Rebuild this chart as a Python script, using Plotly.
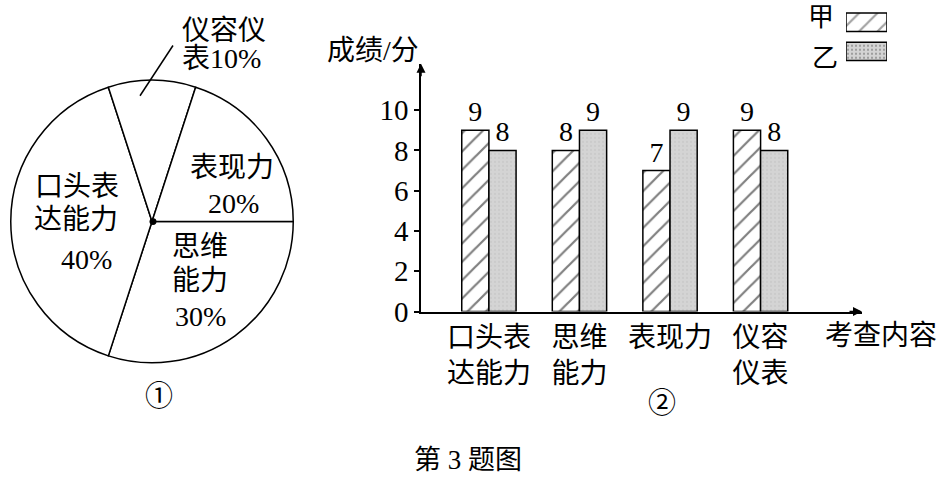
import plotly.graph_objects as go

W, H = 945, 491
FONT = "Liberation Serif, Noto Sans CJK SC"

# ---- data
categories = ["口头表达能力", "思维能力", "表现力", "仪容仪表"]
tick_text = ["口头表<br>达能力", "思维<br>能力", "表现力", "仪容<br>仪表"]
share = [40, 30, 20, 10]          # pie, percent
score_jia = [9, 8, 7, 9]          # 甲
score_yi = [8, 9, 9, 8]           # 乙
y_ticks = [0, 2, 4, 6, 8, 10]

pie_order = [1, 0, 3, 2]          # clockwise from 3 o'clock: 思维能力, 口头表达能力, 仪容仪表, 表现力


def px(x):
    return x / W


def py(y):
    return 1 - y / H


def txt(x, y, s, size=28, xanchor="center"):
    return dict(x=px(x), y=py(y), xref="paper", yref="paper", text=s, showarrow=False,
                xanchor=xanchor, yanchor="middle", font=dict(family=FONT, size=size, color="black"))


fig = go.Figure()

# ---- pie (figure 1)
fig.add_trace(go.Pie(
    labels=[categories[i] for i in pie_order],
    values=[share[i] for i in pie_order],
    sort=False, direction="clockwise", rotation=90,
    marker=dict(colors=["white"] * 4, line=dict(color="black", width=1.5)),
    textinfo="none", hoverinfo="none", showlegend=False,
    domain=dict(x=[px(6), px(298)], y=[py(375), py(83)]),
))

# ---- bars (figure 2)
fig.add_trace(go.Bar(
    x=categories, y=score_jia, name="甲", text=score_jia, textposition="outside",
    marker=dict(color="white", line=dict(color="black", width=1.5),
                pattern=dict(shape="/", fgcolor="black", size=13, solidity=0.17)),
    textfont=dict(family=FONT, size=28, color="black"), cliponaxis=False, showlegend=False,
))
fig.add_trace(go.Bar(
    x=categories, y=score_yi, name="乙", text=score_yi, textposition="outside",
    marker=dict(color="#d4d4d4", line=dict(color="black", width=1.5),
                pattern=dict(shape=".", fgcolor="#bcbcbc", size=4, solidity=0.2)),
    textfont=dict(family=FONT, size=28, color="black"), cliponaxis=False, showlegend=False,
))

# ---- legend keys drawn as a tiny bar chart
fig.add_trace(go.Bar(
    x=[1, 1], y=["乙", "甲"], orientation="h", width=0.63, xaxis="x3", yaxis="y3",
    marker=dict(color=["#d4d4d4", "white"], line=dict(color="black", width=1.5),
                pattern=dict(shape=[".", "/"], fgcolor=["#bcbcbc", "black"],
                             size=[4, 13], solidity=[0.2, 0.17])),
    hoverinfo="none", showlegend=False,
))

fig.update_layout(
    width=W, height=H, margin=dict(l=0, r=0, t=0, b=0),
    paper_bgcolor="white", plot_bgcolor="white",
    barmode="group", bargap=0.4, bargroupgap=0,
    font=dict(family=FONT, size=28, color="black"),
    xaxis=dict(domain=[px(421), px(862)], range=[-0.75, 4.12], tickvals=categories, ticktext=tick_text,
               showline=True, linecolor="black", linewidth=1.5, showgrid=False, zeroline=False,
               ticks="", tickfont=dict(family=FONT, size=28)),
    yaxis=dict(domain=[py(322), py(66)], range=[0, 12.3], tickvals=y_ticks,
               showline=True, linecolor="black", linewidth=1.5, showgrid=False, zeroline=False,
               ticks="outside", ticklen=5, tickwidth=1.5, tickcolor="black",
               tickfont=dict(family=FONT, size=29)),
    xaxis3=dict(domain=[px(846), px(887)], range=[0, 1], anchor="y3", visible=False, fixedrange=True),
    yaxis3=dict(domain=[py(68), py(8)], range=[-0.5, 1.5], anchor="x3", visible=False, fixedrange=True),
    shapes=[
        dict(type="line", xref="paper", yref="paper", x0=px(140), y0=py(99), x1=px(173), y1=py(47),
             line=dict(color="black", width=1.5)),
        dict(type="circle", xref="paper", yref="paper", x0=px(149.5), y0=py(225.5), x1=px(156.5), y1=py(232.5),
             fillcolor="black", line=dict(color="black", width=0)),
    ],
    annotations=[
        # pie labels
        txt(180, 32, "仪容仪", xanchor="left"),
        txt(180, 60, "表10%", xanchor="left"),
        txt(232, 173, "表现力"),
        txt(233, 210, "20%"),
        txt(77, 193, "口头表"),
        txt(76, 227, "达能力"),
        txt(86, 268, "40%"),
        txt(200, 255, "思维"),
        txt(200, 290, "能力"),
        txt(200, 327, "30%"),
        txt(159, 410, "①"),
        # legend labels
        txt(821, 18, "甲", size=26),
        txt(825, 60, "乙", size=26),
        # bar chart texts
        txt(373, 52, "成绩/分"),
        txt(939, 347, "考查内容", xanchor="right"),
        txt(662, 417, "②"),
        txt(468, 475, "第 3 题图", size=27),
        # axis arrows
        dict(x=px(862), y=py(322), xref="paper", yref="paper", ax=-14, ay=0, text="", showarrow=True,
             arrowhead=2, arrowsize=1.2, arrowwidth=1.5, arrowcolor="black", standoff=0),
        dict(x=px(421), y=py(66), xref="paper", yref="paper", ax=0, ay=14, text="", showarrow=True,
             arrowhead=2, arrowsize=1.2, arrowwidth=1.5, arrowcolor="black", standoff=0),
    ],
)

# the page body has an 8px default margin that would push the figure out of the window
fig.write_html("out.html", config={"displayModeBar": False},
               post_script="document.body.style.margin='0';")
